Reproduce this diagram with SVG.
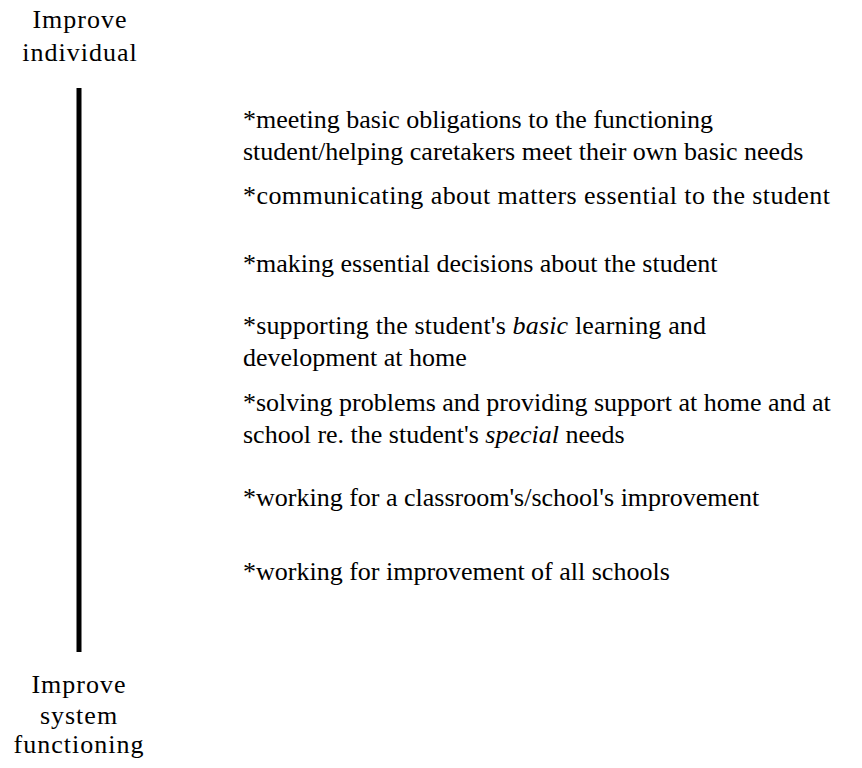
<svg xmlns="http://www.w3.org/2000/svg" width="862" height="768" viewBox="0 0 862 768">
  <style>
    .lbl { font-family: "Liberation Serif", "Times New Roman", serif; font-size: 26px; fill: #000; letter-spacing: 1px; text-anchor: middle; }
    .item { font-family: "Liberation Serif", "Times New Roman", serif; font-size: 26px; fill: #000; }
    .em { font-style: italic; }
    .axis { stroke: #000; stroke-width: 5; fill: none; }
  </style>
  <rect width="862" height="768" fill="#fff"/>

  <!-- scale end labels -->
  <g id="top-label">
    <text class="lbl" x="80" y="28">Improve</text>
    <text class="lbl" x="80" y="61">individual</text>
  </g>
  <g id="bottom-label">
    <text class="lbl" x="79" y="693">Improve</text>
    <text class="lbl" x="79" y="724">system</text>
    <text class="lbl" x="79" y="753">functioning</text>
  </g>

  <!-- continuum axis -->
  <g id="connectors">
    <line class="axis" x1="79" y1="88" x2="79" y2="652"/>
  </g>

  <!-- activities along the continuum -->
  <g id="item-1">
    <text class="item" x="243" y="128">*meeting basic obligations to the functioning</text>
    <text class="item" x="243" y="160">student/helping caretakers meet their own basic needs</text>
  </g>
  <g id="item-2">
    <text class="item" x="243" y="204" textLength="587" lengthAdjust="spacing">*communicating about matters essential to the student</text>
  </g>
  <g id="item-3">
    <text class="item" x="243" y="272">*making essential decisions about the student</text>
  </g>
  <g id="item-4">
    <text class="item" x="243" y="334" textLength="463" lengthAdjust="spacing">*supporting the student's <tspan class="em">basic</tspan> learning and</text>
    <text class="item" x="243" y="366">development at home</text>
  </g>
  <g id="item-5">
    <text class="item" x="243" y="411">*solving problems and providing support at home and at</text>
    <text class="item" x="243" y="443">school re. the student's <tspan class="em">special</tspan> needs</text>
  </g>
  <g id="item-6">
    <text class="item" x="243" y="506">*working for a classroom's/school's improvement</text>
  </g>
  <g id="item-7">
    <text class="item" x="243" y="580">*working for improvement of all schools</text>
  </g>
</svg>
